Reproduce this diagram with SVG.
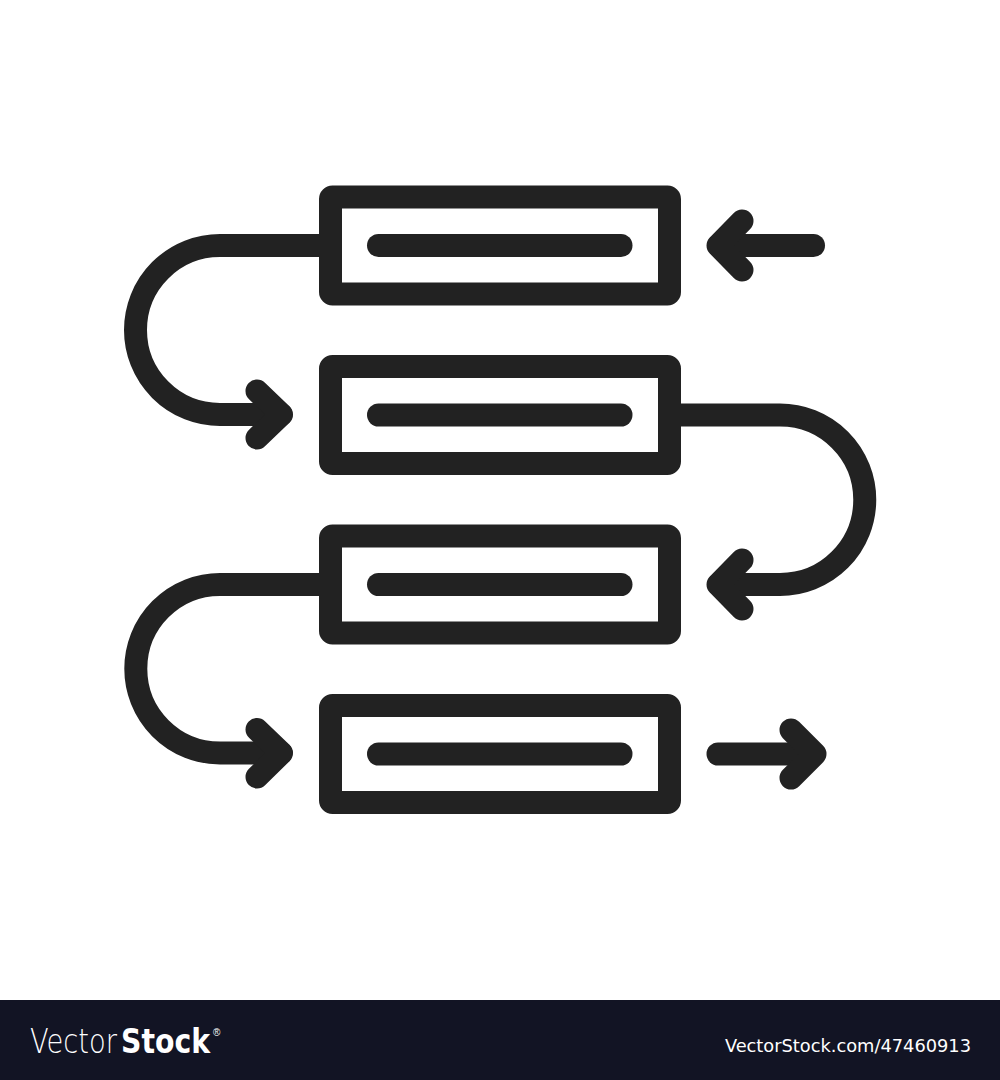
<svg xmlns="http://www.w3.org/2000/svg" width="1000" height="1080" viewBox="0 0 1000 1080">
<style>
.s{fill:none;stroke:#222222;stroke-width:23;stroke-linecap:round;stroke-linejoin:round}
.box{fill:#ffffff;stroke:#222222;stroke-width:23;stroke-linejoin:round}
.bar{fill:none;stroke:#222222;stroke-width:23;stroke-linecap:round}
</style>
<rect width="1000" height="1080" fill="#ffffff"/>
<g id="connectors">
<path class="s" d="M330 245.5 H220 A84.5 84.5 0 0 0 220 414.5 H281"/>
<path class="s" d="M257 391 L281.5 414.5 L257 438"/>
<path class="s" d="M670 415 H780 A84.75 84.75 0 0 1 780 584.5 H719"/>
<path class="s" d="M742 560 L718 584.5 L742 609"/>
<path class="s" d="M330 584.5 H220 A84.25 84.25 0 0 0 220 753 H281"/>
<path class="s" d="M257 729.5 L281.5 753 L257 777"/>
<path class="s" d="M813.5 245.5 H719"/>
<path class="s" d="M742 221 L718 245.5 L742 270"/>
<path class="s" d="M718 754 H813"/>
<path class="s" d="M791 730 L815 754 L791 778"/>
</g>
<g id="node1"><rect class="box" x="330.5" y="197" width="339" height="97" rx="2"/><line class="bar" x1="378.5" y1="245.5" x2="621" y2="245.5"/></g>
<g id="node2"><rect class="box" x="330.5" y="366.5" width="339" height="97" rx="2"/><line class="bar" x1="378.5" y1="415" x2="621" y2="415"/></g>
<g id="node3"><rect class="box" x="330.5" y="536" width="339" height="97" rx="2"/><line class="bar" x1="378.5" y1="584.5" x2="621" y2="584.5"/></g>
<g id="node4"><rect class="box" x="330.5" y="705.5" width="339" height="97" rx="2"/><line class="bar" x1="378.5" y1="754" x2="621" y2="754"/></g>
<g id="footer">
<rect x="0" y="1000" width="1000" height="80" fill="#121424"/>
<text x="30" y="1053" font-family="'DejaVu Sans','Liberation Sans',sans-serif" font-weight="200" font-size="34" fill="#ffffff" textLength="87" lengthAdjust="spacingAndGlyphs">Vector</text>
<text x="121" y="1053" font-family="'DejaVu Sans Condensed','Liberation Sans',sans-serif" font-weight="bold" font-size="34" fill="#ffffff" textLength="89" lengthAdjust="spacingAndGlyphs">Stock</text>
<text x="213" y="1036" font-family="'Liberation Sans',sans-serif" font-size="10" fill="#ffffff">®</text>
<text x="725" y="1052" font-family="'DejaVu Sans Condensed','Liberation Sans',sans-serif" font-size="18.5" fill="#ffffff" textLength="246" lengthAdjust="spacingAndGlyphs">VectorStock.com/47460913</text>
</g>
</svg>
